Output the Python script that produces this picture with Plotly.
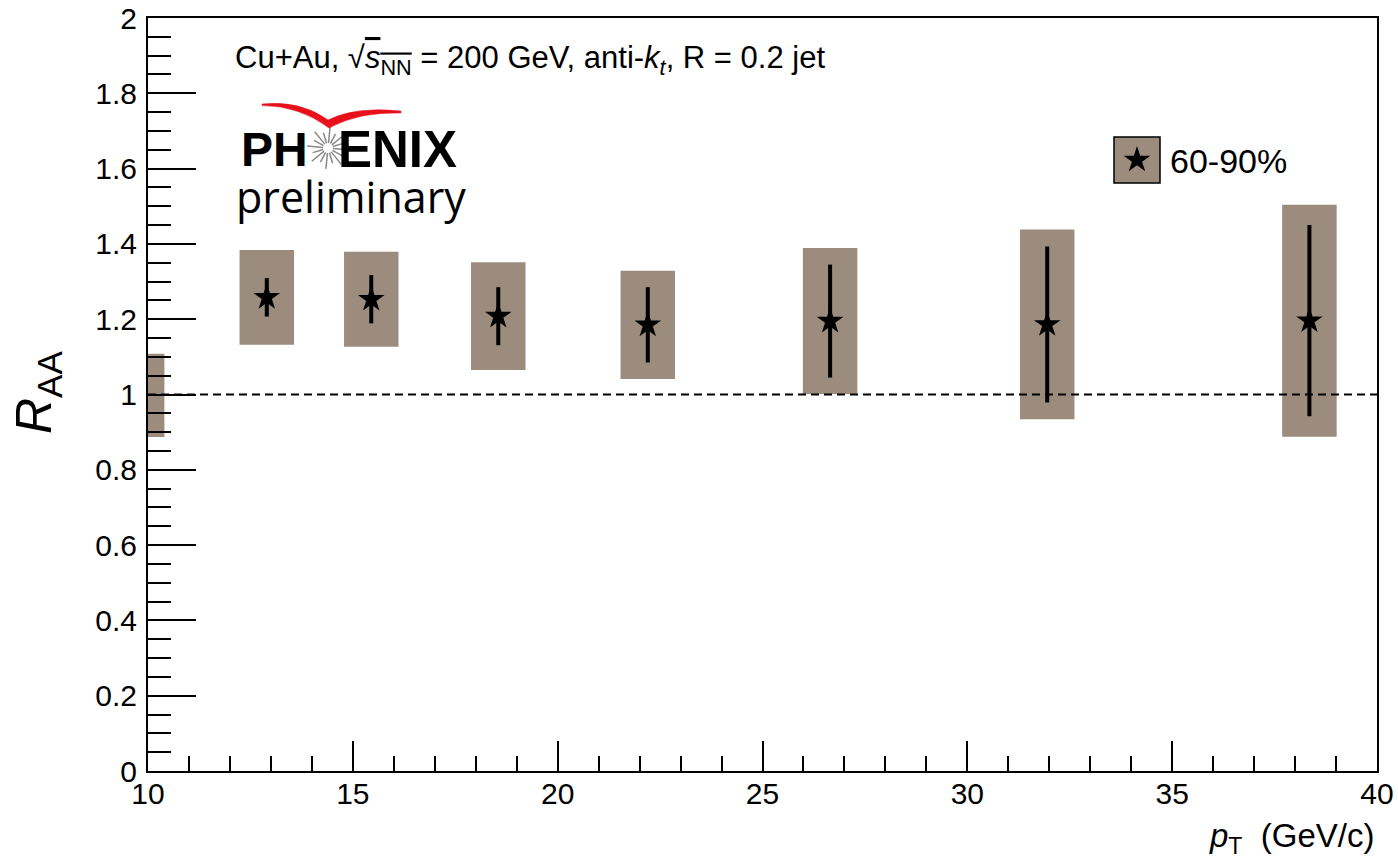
import math
import plotly.graph_objects as go

# ---------------- data ----------------
pt = [12.9, 15.45, 18.55, 22.2, 26.65, 31.95, 38.35]
raa = [1.258, 1.253, 1.208, 1.185, 1.195, 1.186, 1.196]
stat_err = [0.051, 0.064, 0.077, 0.100, 0.150, 0.207, 0.254]
sys_err = [0.126, 0.126, 0.143, 0.144, 0.194, 0.252, 0.308]
sys_box_width = 1.33

norm_x = [10.2]
norm_low = [0.887]
norm_high = [1.108]
norm_width = 0.4

ref_x = [10, 40]
ref_y = [1.0, 1.0]

xticks = [10, 15, 20, 25, 30, 35, 40]
xticklabels = ["10", "15", "20", "25", "30", "35", "40"]
yticks = [0, 0.2, 0.4, 0.6, 0.8, 1.0, 1.2, 1.4, 1.6, 1.8, 2.0]
yticklabels = ["0", "0.2", "0.4", "0.6", "0.8", "1", "1.2", "1.4", "1.6", "1.8", "2"]

legend_label = "60-90%"
BOX = "#9b8c7e"

# ---------------- layout helpers ----------------
W, H = 1398, 862
L, R, T, B = 148, 21, 18, 91
PW, PH = W - L - R, H - T - B


def px(x):
    return (x - L) / PW


def py(y):
    return (H - B - y) / PH


fig = go.Figure()

# systematic boxes
fig.add_trace(go.Bar(
    x=pt, y=[2 * s for s in sys_err], base=[v - s for v, s in zip(raa, sys_err)],
    width=sys_box_width, marker=dict(color=BOX, line=dict(width=0)),
    showlegend=False, hoverinfo="skip"))
# global normalisation box
fig.add_trace(go.Bar(
    x=norm_x, y=[h - l for h, l in zip(norm_high, norm_low)], base=norm_low,
    width=norm_width, marker=dict(color=BOX, line=dict(width=0)),
    showlegend=False, hoverinfo="skip"))
# reference line
fig.add_trace(go.Scatter(
    x=ref_x, y=ref_y, mode="lines",
    line=dict(color="black", width=2, dash="8px,5px"),
    showlegend=False, hoverinfo="skip"))
# points
fig.add_trace(go.Scatter(
    x=pt, y=raa, mode="markers",
    marker=dict(symbol="star", size=20, color="black", line=dict(width=0)),
    error_y=dict(type="data", array=stat_err, visible=True,
                 thickness=4, width=0, color="black"),
    showlegend=False))

# legend star on overlay axes
fig.add_trace(go.Scatter(
    x=[px(1137)], y=[py(160)], xaxis="x2", yaxis="y2", mode="markers",
    marker=dict(symbol="star", size=20, color="black", line=dict(width=0)),
    showlegend=False, hoverinfo="skip"))

font_main = "Liberation Sans, Arial, Helvetica, sans-serif"

axis_common = dict(
    showgrid=False, zeroline=False, showline=True, linecolor="black",
    linewidth=2, mirror=True, ticks="inside", tickcolor="black", tickwidth=2,
    automargin=False,
    tickfont=dict(family=font_main, size=30, color="black"),
)

fig.update_layout(
    width=W, height=H,
    margin=dict(l=L, r=R, t=T, b=B, autoexpand=False),
    paper_bgcolor="white", plot_bgcolor="white",
    barmode="overlay",
    font=dict(family=font_main, color="black"),
    xaxis=dict(range=[10, 40], tickmode="array", tickvals=xticks,
               ticktext=xticklabels, ticklen=30, ticklabelstandoff=-5,
               minor=dict(dtick=1, tick0=10, ticks="inside", ticklen=15,
                          tickwidth=2, tickcolor="black"),
               **axis_common),
    yaxis=dict(range=[0, 2], tickmode="array", tickvals=yticks,
               ticktext=yticklabels, ticklen=48, ticklabelstandoff=3,
               minor=dict(dtick=0.05, tick0=0, ticks="inside", ticklen=23,
                          tickwidth=2, tickcolor="black"),
               **axis_common),
    xaxis2=dict(range=[0, 1], overlaying="x", visible=False, fixedrange=True),
    yaxis2=dict(range=[0, 1], overlaying="y", visible=False, fixedrange=True),
)

ann = []
# top text
ann.append(dict(
    x=px(233), y=py(60), xref="paper", yref="paper", xanchor="left",
    yanchor="middle", showarrow=False,
    text=("Cu+Au, √<span style='text-decoration:overline'><i>s</i><sub>NN</sub></span>"
          " = 200 GeV, anti-<i>k</i><sub><i>t</i></sub>, R = 0.2 jet"),
    font=dict(family=font_main, size=31, color="black")))
# PHENIX logo text
ann.append(dict(x=px(239), y=py(150), xref="paper", yref="paper",
                xanchor="left", yanchor="middle", showarrow=False,
                text="<b>PH</b>", font=dict(family=font_main, size=48, color="black")))
ann.append(dict(x=px(336), y=py(150), xref="paper", yref="paper",
                xanchor="left", yanchor="middle", showarrow=False,
                text="<b>ENIX</b>", font=dict(family=font_main, size=51, color="black")))
ann.append(dict(x=px(234), y=py(196), xref="paper", yref="paper",
                xanchor="left", yanchor="middle", showarrow=False,
                text="preliminary", font=dict(family="Open Sans", size=43, color="black")))
# legend text
ann.append(dict(x=px(1168), y=py(161), xref="paper", yref="paper",
                xanchor="left", yanchor="middle", showarrow=False,
                text=legend_label, font=dict(family=font_main, size=34, color="black")))
# axis titles
ann.append(dict(x=1.0, y=py(838), xref="paper", yref="paper",
                xanchor="right", yanchor="middle", showarrow=False,
                text="<i>p</i><sub>T</sub>\u00a0\u00a0(GeV/c)",
                font=dict(family=font_main, size=33, color="black")))
ann.append(dict(x=px(37), y=py(393), xref="paper", yref="paper",
                xanchor="center", yanchor="middle", showarrow=False, textangle=-90,
                text="<i>R</i><sub>AA</sub>",
                font=dict(family=font_main, size=50, color="black")))
fig.update_layout(annotations=ann)

shapes = []
# legend box
shapes.append(dict(type="rect", xref="paper", yref="paper",
                   x0=px(1114), x1=px(1160), y0=py(183), y1=py(137),
                   fillcolor=BOX, line=dict(color="black", width=1.5), layer="below"))
# starburst of logo
cx, cy = 328, 148
for k in range(16):
    a = 2 * math.pi * k / 16 + 0.1
    r0, r1 = 5, (21 if k % 2 == 0 else 16)
    shapes.append(dict(type="line", xref="paper", yref="paper",
                       x0=px(cx + r0 * math.cos(a)), y0=py(cy + r0 * math.sin(a)),
                       x1=px(cx + r1 * math.cos(a)), y1=py(cy + r1 * math.sin(a)),
                       line=dict(color="#8a8a8a", width=1.5)))


# red swoosh
def P(x, y):
    return f"{px(x):.5f},{py(y):.5f}"


swoosh = (f"M {P(262,104)} Q {P(300,100)} {P(328,120)} "
          f"Q {P(355,106)} {P(401,111)} "
          f"L {P(401,113)} Q {P(358,112)} {P(329,128)} "
          f"Q {P(300,106)} {P(262,105.5)} Z")
shapes.append(dict(type="path", xref="paper", yref="paper", path=swoosh,
                   fillcolor="#e8101a", line=dict(color="#e8101a", width=0.5)))
fig.update_layout(shapes=shapes)

fig.write_html("out.html")
